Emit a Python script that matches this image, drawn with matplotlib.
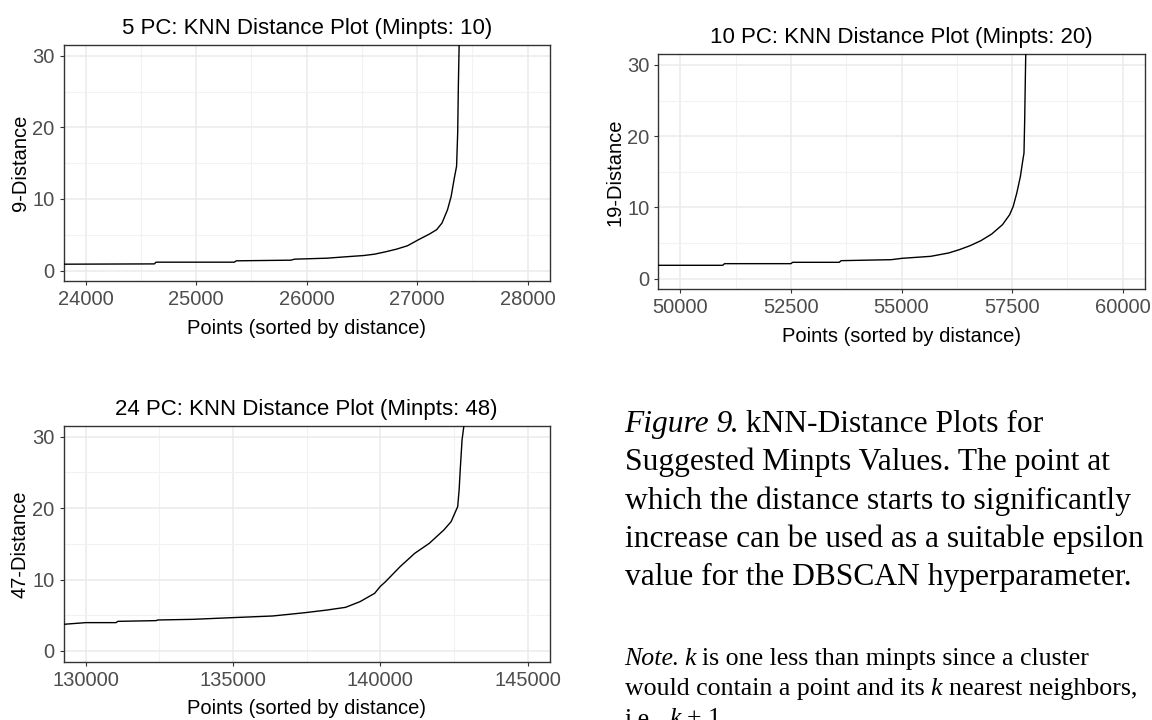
import matplotlib
matplotlib.use("Agg")
import matplotlib.pyplot as plt
from matplotlib.ticker import MultipleLocator

W, H = 1152, 720

# sorted kNN distances
pc5_x = [23796, 24620, 24636, 25345, 25362, 25857, 25890, 26186, 26351, 26516,
         26615, 26714, 26813, 26912, 27011, 27110, 27176, 27225, 27275, 27308,
         27334, 27357, 27367, 27373, 27380, 27385]
pc5_y = [0.89, 0.93, 1.17, 1.17, 1.36, 1.45, 1.59, 1.73, 1.92, 2.10,
         2.29, 2.62, 2.99, 3.46, 4.30, 5.09, 5.70, 6.64, 8.50, 10.37,
         12.71, 14.58, 19.25, 25.79, 31.4, 40.0]

pc10_x = [49497, 50957, 50998, 52498, 52539, 53593, 53633, 54769, 55012, 55661,
          56066, 56310, 56553, 56796, 57040, 57283, 57445, 57526, 57607, 57689,
          57745, 57770, 57786, 57794, 57810, 57815]
pc10_y = [1.87, 1.87, 2.10, 2.10, 2.29, 2.29, 2.52, 2.66, 2.85, 3.13,
          3.60, 4.07, 4.63, 5.33, 6.26, 7.57, 8.97, 10.14, 12.01, 14.35,
          16.68, 17.62, 22.29, 25.56, 31.64, 40.0]

pc24_x = [129233, 130000, 131026, 131088, 132387, 132449, 133623, 134983, 136344,
          137457, 138199, 138817, 139312, 139806, 139992, 140177, 140672, 141167,
          141661, 142156, 142403, 142626, 142675, 142712, 142774, 142836, 142900]
pc24_y = [3.73, 3.97, 3.97, 4.15, 4.25, 4.34, 4.43, 4.67, 4.90,
          5.37, 5.74, 6.11, 6.91, 8.07, 9.01, 9.71, 11.81, 13.67,
          15.07, 16.94, 18.11, 20.21, 22.54, 25.34, 29.54, 31.5, 40.0]

titles = ["5 PC: KNN Distance Plot (Minpts: 10)",
          "10 PC: KNN Distance Plot (Minpts: 20)",
          "24 PC: KNN Distance Plot (Minpts: 48)"]
ylabels = ["9-Distance", "19-Distance", "47-Distance"]
xlims = [(24000, 28000), (50000, 60000), (130000, 145000)]
xsteps = [1000, 2500, 5000]

# panel boxes in pixels: left, top, right, bottom
boxes = [(63.7, 45, 549.7, 281.3),
         (658.3, 54.3, 1144.7, 289.3),
         (63.7, 426, 549.7, 661.7)]

plt.rcParams['font.family'] = ['Liberation Sans', 'DejaVu Sans']

fig = plt.figure(figsize=(W / 100, H / 100), dpi=100)
fig.patch.set_facecolor('white')


def knn_panel(box, xs, ys, title, ylabel, xlim, step):
    l, t, r, b = box
    ax = fig.add_axes([l / W, 1 - b / H, (r - l) / W, (b - t) / H])
    ax.plot(xs, ys, color='black', lw=1.0, zorder=3)
    lo, hi = xlim
    pad = (hi - lo) * 0.05
    ax.set_xlim(lo - pad, hi + pad)
    ax.set_ylim(-1.5, 31.5)
    ax.xaxis.set_major_locator(MultipleLocator(step))
    ax.xaxis.set_minor_locator(MultipleLocator(step / 2))
    ax.yaxis.set_major_locator(MultipleLocator(10))
    ax.yaxis.set_minor_locator(MultipleLocator(5))
    ax.grid(which='major', color='#EBEBEB', lw=1.1, zorder=0)
    ax.grid(which='minor', color='#F2F2F2', lw=0.8, zorder=0)
    ax.set_axisbelow(True)
    for s in ax.spines.values():
        s.set_color('#333333')
        s.set_linewidth(1.0)
    ax.tick_params(which='major', length=3.0, width=0.8, color='#333333',
                   labelcolor='#4D4D4D', labelsize=14.5, pad=3.5)
    ax.tick_params(which='minor', length=0)
    ax.xaxis.set_major_formatter(lambda v, p: f"{int(v)}")
    ax.set_title(title, fontsize=16, color='black', pad=8)
    ax.set_xlabel("Points (sorted by distance)", fontsize=14.5, labelpad=7)
    ax.set_ylabel(ylabel, fontsize=14.5, labelpad=2)
    return ax


knn_panel(boxes[0], pc5_x, pc5_y, titles[0], ylabels[0], xlims[0], xsteps[0])
knn_panel(boxes[1], pc10_x, pc10_y, titles[1], ylabels[1], xlims[1], xsteps[1])
knn_panel(boxes[2], pc24_x, pc24_y, titles[2], ylabels[2], xlims[2], xsteps[2])

renderer = fig.canvas.get_renderer()


def text_runs(x_px, y_px, runs, size):
    # lay out a line made of roman / italic pieces, one after another
    em = size * 100 / 72
    space = 0.25 * em
    x = x_px
    for i, (txt, style) in enumerate(runs):
        x += space * (len(txt) - len(txt.lstrip(' ')))
        body = txt.strip(' ')
        if body:
            t = fig.text(x / W, 1 - y_px / H, body, fontsize=size,
                         family='Liberation Serif', style=style,
                         va='baseline', ha='left', color='black')
            x += t.get_window_extent(renderer).width
            nxt = runs[i + 1][0] if i + 1 < len(runs) else ''
            # pull punctuation back against the italic overhang
            if style == 'italic' and nxt[:1] in ('.', ','):
                x -= 0.08 * em
        x += space * (len(txt) - len(txt.rstrip(' ')))


caption = [[("Figure 9", 'italic'), (". kNN-Distance Plots for", 'normal')],
           [("Suggested Minpts Values. The point at", 'normal')],
           [("which the distance starts to significantly", 'normal')],
           [("increase can be used as a suitable epsilon", 'normal')],
           [("value for the DBSCAN hyperparameter.", 'normal')]]
for i, runs in enumerate(caption):
    text_runs(624.6, 431.7 + i * 38.4, runs, 22.7)

note = [[("Note", 'italic'), (". ", 'normal'), ("k", 'italic'),
         (" is one less than minpts since a cluster", 'normal')],
        [("would contain a point and its ", 'normal'), ("k", 'italic'),
         (" nearest neighbors,", 'normal')],
        [("i.e., ", 'normal'), ("k", 'italic'), (" + 1.", 'normal')]]
for i, runs in enumerate(note):
    text_runs(624.6, 665 + i * 30, runs, 18.6)

fig.savefig("out.png", dpi=100)
